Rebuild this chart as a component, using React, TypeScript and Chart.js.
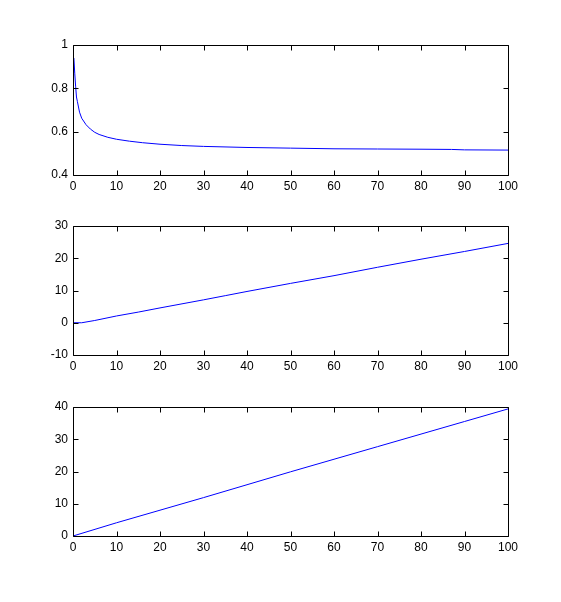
import React, { useEffect, useRef } from "react";
import { Chart, registerables } from "chart.js";

Chart.register(...registerables);

// x tick labels shared by all three panels
const xTicks = [0, 10, 20, 30, 40, 50, 60, 70, 80, 90, 100];

// Panel 1
const x1 = [0.2, 0.4, 0.6, 0.8, 1, 1.5, 2, 3, 4, 5, 6, 8, 10, 13, 16, 20, 25, 30, 40, 50, 60, 70, 80, 87, 90, 100];
const y1 = [0.94, 0.87, 0.81, 0.76, 0.74, 0.69, 0.662, 0.632, 0.612, 0.597, 0.587, 0.574, 0.565, 0.556, 0.549, 0.542, 0.536, 0.532, 0.527, 0.524, 0.521, 0.52, 0.519, 0.518, 0.516, 0.515];
const yTicks1 = [0.4, 0.6, 0.8, 1];

// Panel 2
const x2 = [0, 2, 5, 10, 15, 20, 30, 35, 40, 50, 60, 70, 80, 90, 100];
const y2 = [0, 0, 0.7, 2.1, 3.3, 4.6, 7.1, 8.4, 9.7, 12.2, 14.6, 17.2, 19.7, 22.1, 24.6];
const yTicks2 = [-10, 0, 10, 20, 30];

// Panel 3
const x3 = [0, 10, 20, 30, 40, 50, 60, 70, 80, 90, 100];
const y3 = [0, 4.1, 8.0, 11.9, 15.9, 19.9, 23.8, 27.7, 31.6, 35.5, 39.4];
const yTicks3 = [0, 10, 20, 30, 40];

const W = 561;
const H = 602;
const LEFT = 73;
const RIGHT = 508;

const FONT = { family: "'Liberation Sans', Arial, sans-serif", size: 12 };

const boxTicks = {
  id: "boxTicks",
  afterDraw(chart: any) {
    const { ctx, chartArea, scales } = chart;
    const l = Math.round(chartArea.left) + 0.5;
    const r = Math.round(chartArea.right) + 0.5;
    const t = Math.round(chartArea.top) + 0.5;
    const b = Math.round(chartArea.bottom) + 0.5;
    ctx.save();
    ctx.strokeStyle = "#000";
    ctx.lineWidth = 1;
    ctx.beginPath();
    ctx.rect(l, t, r - l, b - t);
    const len = 5;
    for (const tk of scales.x.ticks) {
      const px = Math.round(scales.x.getPixelForValue(tk.value)) + 0.5;
      ctx.moveTo(px, b);
      ctx.lineTo(px, b - len);
      ctx.moveTo(px, t);
      ctx.lineTo(px, t + len);
    }
    for (const tk of scales.y.ticks) {
      const py = Math.round(scales.y.getPixelForValue(tk.value)) + 0.5;
      ctx.moveTo(l, py);
      ctx.lineTo(l + len, py);
      ctx.moveTo(r, py);
      ctx.lineTo(r - len, py);
    }
    ctx.stroke();
    ctx.restore();
  },
};

function Panel(props: {
  xs: number[];
  ys: number[];
  yTicks: number[];
  top: number;
  bottom: number;
}) {
  const ref = useRef<HTMLCanvasElement>(null);
  useEffect(() => {
    const { xs, ys, yTicks, top, bottom } = props;
    const XH = 22;
    const chart = new Chart(ref.current!, {
      type: "line",
      data: {
        datasets: [
          {
            data: xs.map((x, i) => ({ x, y: ys[i] })),
            borderColor: "#0000ff",
            borderWidth: 1,
            pointRadius: 0,
            tension: 0,
            fill: false,
          },
        ],
      },
      options: {
        animation: false,
        responsive: false,
        events: [],
        layout: {
          padding: { left: 0, top: top, right: W - RIGHT, bottom: H - bottom - XH },
        },
        plugins: { legend: { display: false }, tooltip: { enabled: false } },
        scales: {
          x: {
            type: "linear",
            min: xTicks[0],
            max: xTicks[xTicks.length - 1],
            afterBuildTicks: (s: any) => {
              s.ticks = xTicks.map((v) => ({ value: v }));
            },
            afterFit: (s: any) => {
              s.height = XH;
            },
            grid: { display: false, drawTicks: false },
            border: { display: false },
            ticks: {
              color: "#000",
              font: FONT,
              padding: 4,
              maxRotation: 0,
              autoSkip: false,
              callback: (v: any) => String(v),
            },
          },
          y: {
            type: "linear",
            min: yTicks[0],
            max: yTicks[yTicks.length - 1],
            afterBuildTicks: (s: any) => {
              s.ticks = yTicks.map((v) => ({ value: v }));
            },
            afterFit: (s: any) => {
              s.width = LEFT;
            },
            grid: { display: false, drawTicks: false },
            border: { display: false },
            ticks: {
              color: "#000",
              font: FONT,
              padding: 5,
              autoSkip: false,
              callback: (v: any) => String(Number(Number(v).toFixed(2))),
            },
          },
        },
      },
      plugins: [boxTicks],
    });
    return () => chart.destroy();
  }, []);
  return (
    <canvas
      ref={ref}
      width={W}
      height={H}
      style={{ position: "absolute", left: 0, top: 0, width: W, height: H }}
    />
  );
}

export default function App() {
  return (
    <div
      style={{
        position: "fixed",
        left: 0,
        top: 0,
        width: W,
        height: H,
        background: "#fff",
      }}
    >
      <Panel xs={x1} ys={y1} yTicks={yTicks1} top={45} bottom={175} />
      <Panel xs={x2} ys={y2} yTicks={yTicks2} top={226} bottom={355} />
      <Panel xs={x3} ys={y3} yTicks={yTicks3} top={407} bottom={536} />
    </div>
  );
}
